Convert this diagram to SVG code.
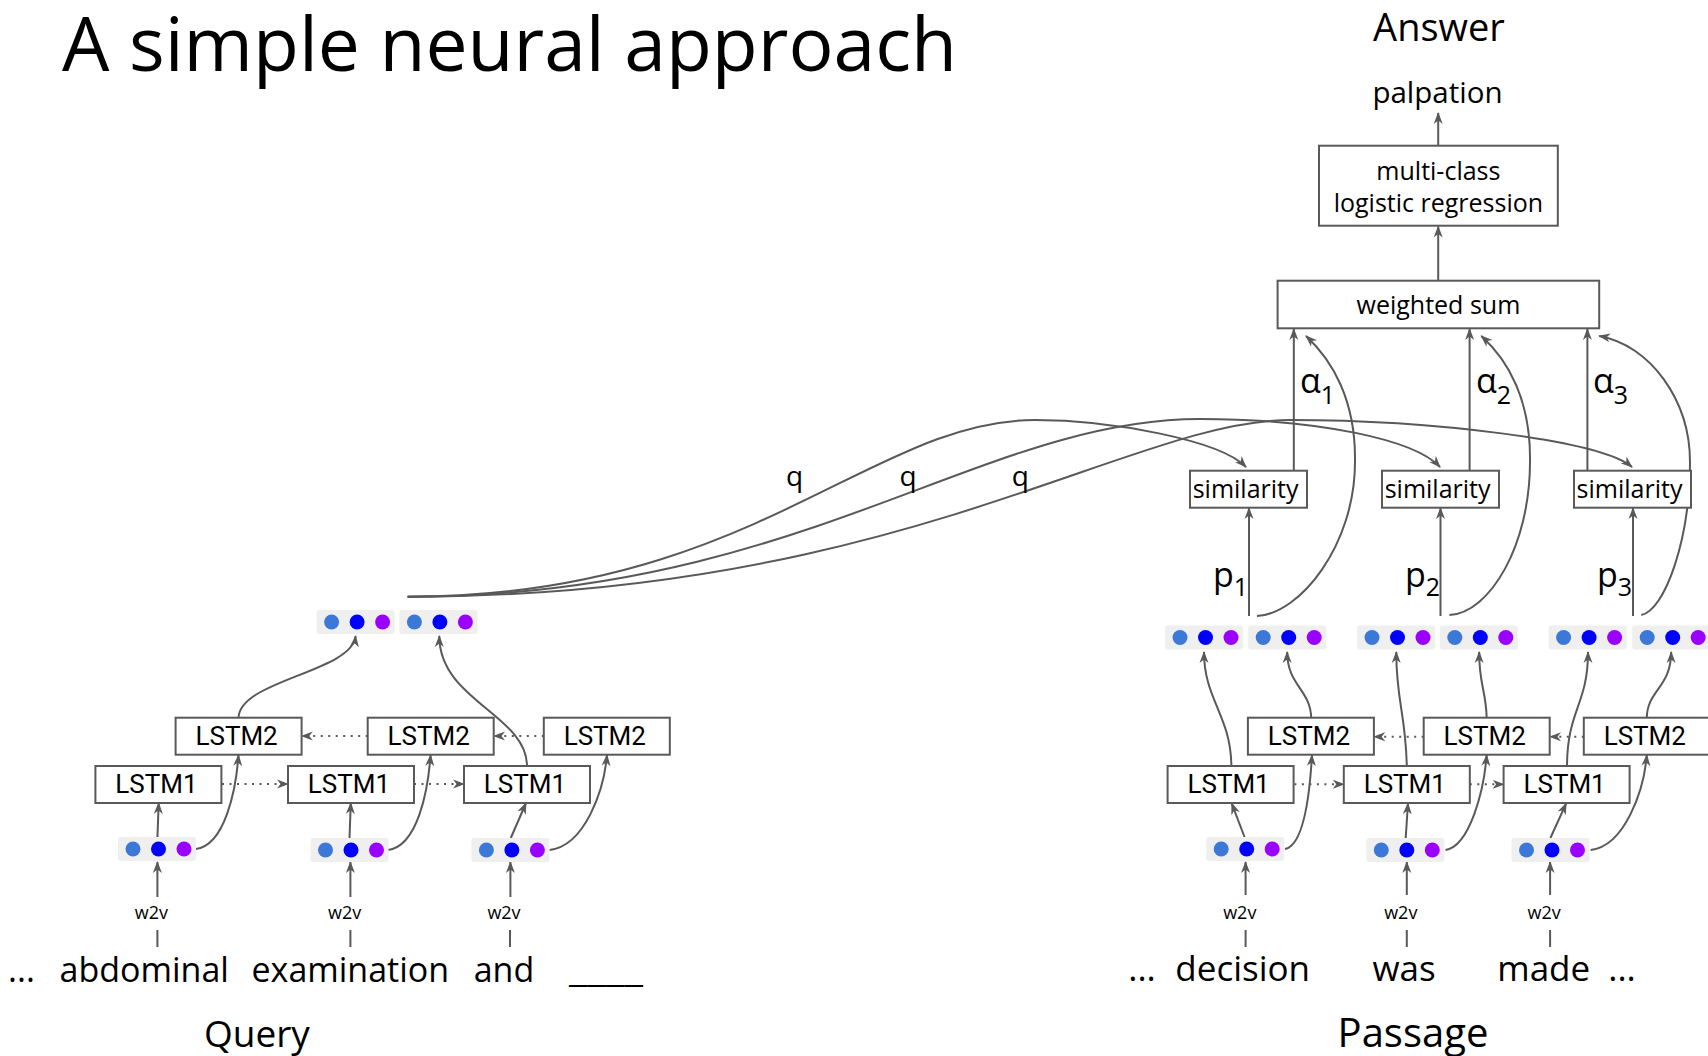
<svg xmlns="http://www.w3.org/2000/svg" xmlns:xlink="http://www.w3.org/1999/xlink" width="1708" height="1056" viewBox="0 0 1708 1056">
<style>
.box{fill:#ffffff;stroke:#595959;stroke-width:2}
.ln{fill:none;stroke:#595959;stroke-width:2}
.ar{fill:none;stroke:#595959;stroke-width:2;marker-end:url(#ah)}
.dot{fill:none;stroke:#595959;stroke-width:2;stroke-dasharray:2 5.5;marker-end:url(#ah)}
.t{font-family:"Open Sans","Liberation Sans",sans-serif;fill:#000000}
.m{text-anchor:middle}
.lstm{font-family:Roboto,"Liberation Sans",sans-serif;font-size:26px;fill:#000000;text-anchor:middle}
.bg{fill:#efefef}
.c1{fill:#3c78d8}
.c2{fill:#0000ff}
.c3{fill:#9900ff}
</style>
<defs>
<marker id="ah" viewBox="0 0 12 12" refX="11" refY="6" markerWidth="12" markerHeight="12" markerUnits="userSpaceOnUse" orient="auto">
<path d="M0,1.5 L12,6 L0,10.5 L3.5,6 z" fill="#595959"/>
</marker>
<g id="dots">
<rect class="bg" x="0" y="-12" width="78" height="24" rx="3"/>
<circle class="c1" cx="15" cy="0" r="7.5"/>
<circle class="c2" cx="40.5" cy="0" r="7.5"/>
<circle class="c3" cx="66" cy="0" r="7.5"/>
</g>
</defs>
<rect width="1708" height="1056" fill="#ffffff"/>

<g id="title"><text class="t" x="62" y="71" font-size="75">A simple neural approach</text></g>

<g id="connectors">
<!-- left: w2v ticks and arrows -->
<path class="ln" d="M157.4,930 V947 M350.4,930 V947 M510,930 V947 M1245.6,930 V947 M1406.8,930 V947 M1550.1,930 V947"/>
<path class="ar" d="M157.4,897 V862"/>
<path class="ar" d="M350.4,897 V862"/>
<path class="ar" d="M510.4,897 V862"/>
<path class="ar" d="M1245.6,895 V862"/>
<path class="ar" d="M1406.8,895 V862"/>
<path class="ar" d="M1550.1,895 V862"/>
<!-- left: dots to LSTM1 -->
<path class="ar" d="M157.4,838 L158.7,803"/>
<path class="ar" d="M349.5,838 L350.8,803"/>
<path class="ar" d="M510.8,838 L526,803"/>
<!-- left: purple to LSTM2 -->
<path class="ar" d="M196,849 C225,845 236,790 238.5,755"/>
<path class="ar" d="M388,850 C418,846 428,790 430.6,755"/>
<path class="ar" d="M549.4,850 C585,846 604,790 607,755"/>
<!-- left: to top dots -->
<path class="ar" d="M238.5,717.7 C240,680 352,672 355.6,636"/>
<path class="ar" d="M527,766 C527,715 439,700 439.3,636"/>
<!-- left dotted -->
<path class="dot" d="M222,784 H288"/>
<path class="dot" d="M414,784 H464"/>
<path class="dot" d="M367.7,736 H301.8"/>
<path class="dot" d="M543.8,736 H494"/>
<!-- q curves -->
<path class="ar" d="M407.6,596.7 C750,597 870,420 1035,420 C1110,420 1220,440 1246,467"/>
<path class="ar" d="M407.6,596.7 C800,597 980,419 1200,419 C1320,419 1415,440 1440,467"/>
<path class="ar" d="M407.6,596.7 C900,597 1130,420 1290,420 C1430,420 1600,440 1632,467"/>
<!-- right: dots to LSTM1 -->
<path class="ar" d="M1244.9,838 L1231.7,803.3"/>
<path class="ar" d="M1405.7,838 L1408,803.3"/>
<path class="ar" d="M1550.4,838 L1566.2,803.3"/>
<!-- right: purple to LSTM2 -->
<path class="ar" d="M1285,849 C1305,845 1310,790 1312,755"/>
<path class="ar" d="M1445.5,850 C1470,846 1484,790 1486.7,755"/>
<path class="ar" d="M1590.6,850 C1625,846 1644,790 1646.8,755"/>
<!-- right: LSTM1 to top dots -->
<path class="ar" d="M1231.4,766.7 C1231,715 1204,700 1204,652"/>
<path class="ar" d="M1406.8,766.7 C1406,715 1396,700 1396.3,652"/>
<path class="ar" d="M1567,766.7 C1567,710 1588,705 1588,652"/>
<!-- right: LSTM2 to top dots -->
<path class="ar" d="M1311.2,718.3 C1311,690 1287,685 1287.2,652"/>
<path class="ar" d="M1486.7,718 C1486,690 1479,685 1479.2,652"/>
<path class="ar" d="M1646.8,718 C1647,690 1671,688 1671.2,652"/>
<!-- right dotted -->
<path class="dot" d="M1294.4,784.3 H1343.8"/>
<path class="dot" d="M1469.8,784.3 H1503.6"/>
<path class="dot" d="M1423.7,736.7 H1374.2"/>
<path class="dot" d="M1583.8,736.7 H1550"/>
<!-- p to similarity -->
<path class="ar" d="M1249,616 V508"/>
<path class="ar" d="M1440.5,616 V508"/>
<path class="ar" d="M1633,616 V508"/>
<!-- p curves to weighted sum -->
<path class="ar" d="M1257,616 C1300,614 1355,545 1355,462 C1356,400 1332,360 1306,336"/>
<path class="ar" d="M1449.4,615 C1490,613 1530,545 1530,462 C1531,400 1508,360 1481.3,336"/>
<path class="ar" d="M1641.3,615 C1665,610 1690,540 1690,462 C1690,400 1650,345 1599.2,336"/>
<!-- similarity to weighted sum -->
<path class="ar" d="M1293.8,470.7 V329"/>
<path class="ar" d="M1469.6,470.7 V329"/>
<path class="ar" d="M1587.4,470.7 V329"/>
<!-- upper -->
<path class="ar" d="M1438.2,280.7 V226.5"/>
<path class="ar" d="M1438.2,145.7 V113"/>
</g>

<!-- dot groups -->
<g id="qdots-top1"><use xlink:href="#dots" x="316.6" y="622"/></g>
<g id="qdots-top2"><use xlink:href="#dots" x="399.4" y="622"/></g>
<g id="qdots-w1"><use xlink:href="#dots" x="118" y="849"/></g>
<g id="qdots-w2"><use xlink:href="#dots" x="310.5" y="850"/></g>
<g id="qdots-w3"><use xlink:href="#dots" x="471.4" y="850"/></g>
<g id="pdots-top1"><use xlink:href="#dots" x="1165" y="637.5"/></g>
<g id="pdots-top2"><use xlink:href="#dots" x="1248.2" y="637.5"/></g>
<g id="pdots-top3"><use xlink:href="#dots" x="1357" y="637.5"/></g>
<g id="pdots-top4"><use xlink:href="#dots" x="1439.8" y="637.5"/></g>
<g id="pdots-top5"><use xlink:href="#dots" x="1548.6" y="637.5"/></g>
<g id="pdots-top6"><use xlink:href="#dots" x="1632.2" y="637.5"/></g>
<g id="pdots-w1"><use xlink:href="#dots" x="1206.2" y="849"/></g>
<g id="pdots-w2"><use xlink:href="#dots" x="1366.3" y="850"/></g>
<g id="pdots-w3"><use xlink:href="#dots" x="1511.5" y="850"/></g>

<!-- LSTM boxes left -->
<g id="q-lstm2-1"><rect class="box" x="175.6" y="717.7" width="126" height="37"/><text class="lstm" x="236.6" y="745.3">LSTM2</text></g>
<g id="q-lstm2-2"><rect class="box" x="367.7" y="717.7" width="126" height="37"/><text class="lstm" x="428.7" y="745.3">LSTM2</text></g>
<g id="q-lstm2-3"><rect class="box" x="543.8" y="717.7" width="126" height="37"/><text class="lstm" x="604.8" y="745.3">LSTM2</text></g>
<g id="q-lstm1-1"><rect class="box" x="95.4" y="766" width="126" height="37"/><text class="lstm" x="156.4" y="793.3">LSTM1</text></g>
<g id="q-lstm1-2"><rect class="box" x="288" y="766" width="126" height="37"/><text class="lstm" x="349" y="793.3">LSTM1</text></g>
<g id="q-lstm1-3"><rect class="box" x="464" y="766" width="126" height="37"/><text class="lstm" x="525" y="793.3">LSTM1</text></g>
<!-- LSTM boxes right -->
<g id="p-lstm2-1"><rect class="box" x="1247.9" y="717.7" width="126" height="37"/><text class="lstm" x="1308.9" y="745.3">LSTM2</text></g>
<g id="p-lstm2-2"><rect class="box" x="1423.7" y="717.7" width="126" height="37"/><text class="lstm" x="1484.7" y="745.3">LSTM2</text></g>
<g id="p-lstm2-3"><rect class="box" x="1583.8" y="717.7" width="126" height="37"/><text class="lstm" x="1644.8" y="745.3">LSTM2</text></g>
<g id="p-lstm1-1"><rect class="box" x="1167.6" y="766" width="126" height="37"/><text class="lstm" x="1228.6" y="793.3">LSTM1</text></g>
<g id="p-lstm1-2"><rect class="box" x="1343.8" y="766" width="126" height="37"/><text class="lstm" x="1404.8" y="793.3">LSTM1</text></g>
<g id="p-lstm1-3"><rect class="box" x="1503.6" y="766" width="126" height="37"/><text class="lstm" x="1564.6" y="793.3">LSTM1</text></g>

<!-- similarity -->
<g id="sim1"><rect class="box" x="1190" y="470.7" width="117" height="37"/><text class="t m" x="1245.6" y="498" font-size="25">similarity</text></g>
<g id="sim2"><rect class="box" x="1382" y="470.7" width="117" height="37"/><text class="t m" x="1437.6" y="498" font-size="25">similarity</text></g>
<g id="sim3"><rect class="box" x="1574" y="470.7" width="117" height="37"/><text class="t m" x="1629.5" y="498" font-size="25">similarity</text></g>

<g id="weighted-sum"><rect class="box" x="1277.6" y="280.7" width="321.6" height="47.6"/><text class="t m" x="1438.4" y="314" font-size="25">weighted sum</text></g>
<g id="multiclass"><rect class="box" x="1319" y="145.7" width="238.8" height="80"/><text class="t m" x="1438.4" y="180" font-size="25">multi-class</text><text class="t m" x="1438.4" y="211.5" font-size="25">logistic regression</text></g>

<g id="palpation"><text class="t m" x="1437.5" y="103" font-size="29.5">palpation</text></g>
<g id="answer"><text class="t m" x="1439" y="41" font-size="38">Answer</text></g>

<!-- alpha / p / q labels -->
<g id="alpha1"><text class="t" x="1300" y="393" font-size="34">α<tspan font-size="25" dy="10.5">1</tspan></text></g>
<g id="alpha2"><text class="t" x="1476" y="393" font-size="34">α<tspan font-size="25" dy="10.5">2</tspan></text></g>
<g id="alpha3"><text class="t" x="1593" y="393" font-size="34">α<tspan font-size="25" dy="10.5">3</tspan></text></g>
<g id="p1"><text class="t" x="1213" y="587" font-size="34">p<tspan font-size="25" dy="8.5">1</tspan></text></g>
<g id="p2"><text class="t" x="1405" y="587" font-size="34">p<tspan font-size="25" dy="8.5">2</tspan></text></g>
<g id="p3"><text class="t" x="1597" y="587" font-size="34">p<tspan font-size="25" dy="8.5">3</tspan></text></g>
<g id="q1"><text class="t" x="786" y="486" font-size="28">q</text></g>
<g id="q2"><text class="t" x="899.6" y="486" font-size="28">q</text></g>
<g id="q3"><text class="t" x="1011.8" y="486" font-size="28">q</text></g>

<!-- w2v labels -->
<g id="w2v-labels">
<text class="t m" x="151.4" y="919" font-size="18">w2v</text>
<text class="t m" x="344.6" y="919" font-size="18">w2v</text>
<text class="t m" x="504" y="919" font-size="18">w2v</text>
<text class="t m" x="1239.8" y="919" font-size="18">w2v</text>
<text class="t m" x="1400.8" y="919" font-size="18">w2v</text>
<text class="t m" x="1544.1" y="919" font-size="18">w2v</text>
</g>

<!-- words -->
<g id="query-words">
<text class="t m" x="21.5" y="981.5" font-size="34">...</text>
<text class="t m" x="144.2" y="981.5" font-size="34">abdominal</text>
<text class="t m" x="350.3" y="981.5" font-size="34">examination</text>
<text class="t m" x="504" y="981.5" font-size="34">and</text>
<text class="t" x="569" y="981.5" font-size="34" textLength="74" lengthAdjust="spacingAndGlyphs">____</text>
</g>
<g id="passage-words">
<text class="t m" x="1142" y="981" font-size="35">...</text>
<text class="t m" x="1242.7" y="981" font-size="35">decision</text>
<text class="t m" x="1404" y="981" font-size="35">was</text>
<text class="t m" x="1543.7" y="981" font-size="35">made</text>
<text class="t m" x="1622" y="981" font-size="35">...</text>
</g>
<g id="query-label"><text class="t m" x="256.9" y="1047" font-size="37">Query</text></g>
<g id="passage-label"><text class="t m" x="1413" y="1047" font-size="40">Passage</text></g>
</svg>
